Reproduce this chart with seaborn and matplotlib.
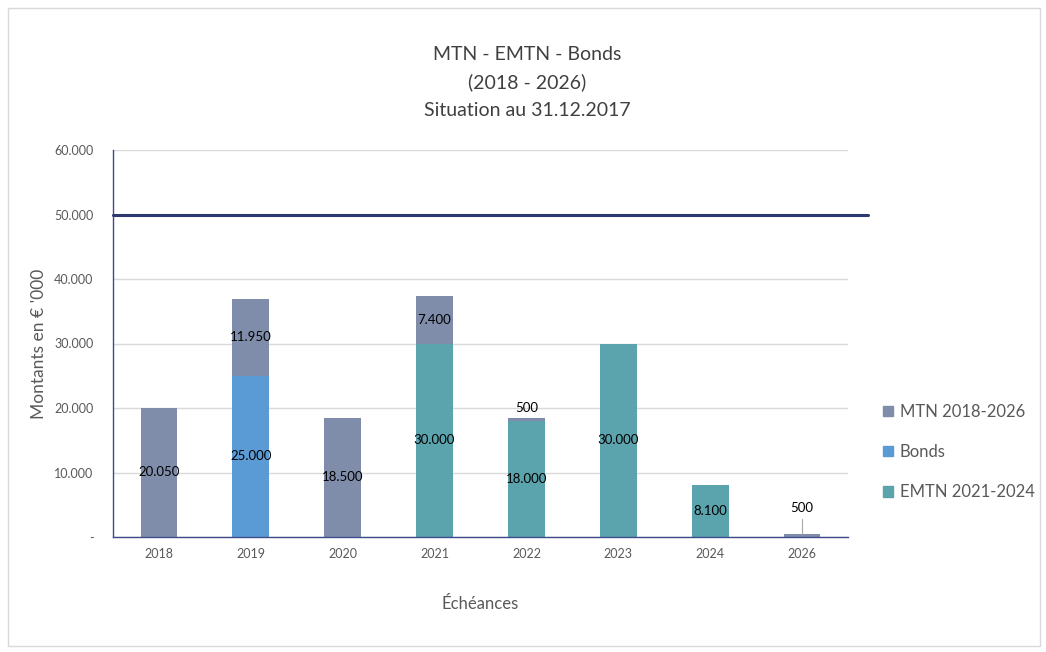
import matplotlib
matplotlib.use("Agg")
import matplotlib.pyplot as plt
import seaborn as sns
import pandas as pd
from matplotlib.patches import Rectangle

years = ["2018", "2019", "2020", "2021", "2022", "2023", "2024", "2026"]
mtn = [20050, 11950, 18500, 7400, 500, 0, 0, 500]
bonds = [0, 25000, 0, 0, 0, 0, 0, 0]
emtn = [0, 0, 0, 30000, 18000, 30000, 8100, 0]
limit_value = 50000
yticks = [0, 10000, 20000, 30000, 40000, 50000, 60000]
ytick_labels = ["-", "10.000", "20.000", "30.000", "40.000", "50.000", "60.000"]

c_mtn = "#7F8DAA"
c_bonds = "#5B9BD5"
c_emtn = "#5BA3AD"
c_line = "#2E3870"
c_text = "#595959"

sns.set_theme(style="white")
plt.rcParams["font.family"] = ["Lato", "DejaVu Sans"]

fig = plt.figure(figsize=(10.46, 6.52), dpi=100)
ax = fig.add_axes([113/1046, 1-537/652, (848-113)/1046, (537-150)/652])

df = pd.DataFrame({"year": years, "mtn": mtn, "bonds": bonds, "emtn": emtn})
bottom_mtn = [b + e for b, e in zip(bonds, emtn)]

w = 0.4
sns.barplot(data=df, x="year", y="bonds", order=years, color=c_bonds, width=w,
            ax=ax, saturation=1, errorbar=None, linewidth=0)
sns.barplot(data=df, x="year", y="emtn", order=years, color=c_emtn, width=w,
            ax=ax, saturation=1, errorbar=None, linewidth=0, bottom=bonds)
sns.barplot(data=df, x="year", y="mtn", order=years, color=c_mtn, width=w,
            ax=ax, saturation=1, errorbar=None, linewidth=0, bottom=bottom_mtn)

def fmt(v):
    return f"{v:,.0f}".replace(",", ".")

for i in range(len(years)):
    if bonds[i] > 0:
        ax.text(i, bonds[i] / 2, fmt(bonds[i]), ha="center", va="center", fontsize=9.5, color="black")
    if emtn[i] > 0:
        ax.text(i, bonds[i] + emtn[i] / 2, fmt(emtn[i]), ha="center", va="center", fontsize=9.5, color="black")
    if mtn[i] > 0:
        b = bottom_mtn[i]
        if mtn[i] < 2000:
            if b > 0:
                ax.text(i, b + mtn[i] + 1500, fmt(mtn[i]), ha="center", va="center", fontsize=9.5, color="black")
            else:
                ax.plot([i, i], [mtn[i], mtn[i] + 2300], color="#A6A6A6", lw=0.8)
                ax.text(i, mtn[i] + 4000, fmt(mtn[i]), ha="center", va="center", fontsize=9.5, color="black")
        else:
            ax.text(i, b + mtn[i] / 2, fmt(mtn[i]), ha="center", va="center", fontsize=9.5, color="black")

# limit line extending slightly beyond the plot area
ax.plot([-0.5, 7.72], [limit_value, limit_value], color=c_line, lw=2.2, clip_on=False, zorder=5)

ax.set_ylim(0, 60000)
ax.set_xlim(-0.5, 7.5)
ax.set_yticks(yticks)
ax.set_yticklabels(ytick_labels, fontsize=9, color=c_text)
ax.tick_params(axis="x", labelsize=9, colors=c_text, length=0, pad=8)
ax.tick_params(axis="y", length=0, pad=14)
ax.yaxis.grid(True, color="#D9D9D9", lw=1)
ax.set_axisbelow(True)
for s in ["top", "right"]:
    ax.spines[s].set_visible(False)
ax.spines["left"].set_color("#3F4C8A")
ax.spines["bottom"].set_color("#3F4C8A")
ax.spines["left"].set_linewidth(1)
ax.spines["bottom"].set_linewidth(1)

ax.set_xlabel("Échéances", fontsize=12, color=c_text, labelpad=26)
ax.set_ylabel("Montants en € '000", fontsize=12.5, color=c_text, labelpad=5)

fig.text(527/1046, 1-55/652, "MTN - EMTN - Bonds", ha="center", va="center", fontsize=14, color="#404040")
fig.text(527/1046, 1-82/652, "(2018 - 2026)", ha="center", va="center", fontsize=14, color="#404040")
fig.text(527/1046, 1-110/652, "Situation au 31.12.2017", ha="center", va="center", fontsize=14, color="#404040")

handles = [Rectangle((0, 0), 1, 1, color=c) for c in [c_mtn, c_bonds, c_emtn]]
leg = fig.legend(handles, ["MTN 2018-2026", "Bonds", "EMTN 2021-2024"],
                 loc="center left", bbox_to_anchor=(868/1046, 1-452/652),
                 frameon=False, fontsize=12, labelspacing=1.45, handlelength=0.6,
                 handleheight=0.6, handletextpad=0.4, labelcolor=c_text)

fig.patches.append(Rectangle((8/1046, 6/652), 1 - 14/1046, 1 - 14/652, transform=fig.transFigure,
                             fill=False, edgecolor="#D9D9D9", lw=1))

fig.savefig("out.png", dpi=100)
